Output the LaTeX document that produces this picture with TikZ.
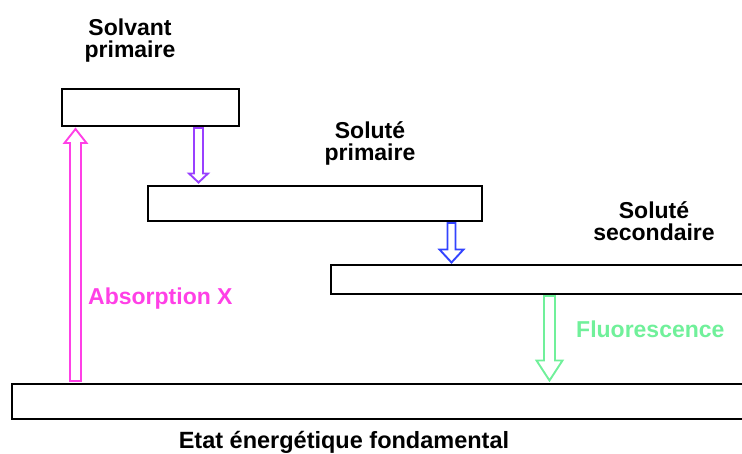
\documentclass[tikz,border=0pt]{standalone}
\usepackage{fontspec}
\setmainfont{Liberation Sans}
\usetikzlibrary{calc}
\definecolor{absorb}{HTML}{FF40E6}
\definecolor{transferone}{HTML}{9940FF}
\definecolor{transfertwo}{HTML}{3344FF}
\definecolor{fluo}{HTML}{70F09A}
% hollow block arrow: style, from, to, shaft half width, head half width, head length
\newcommand{\hollowarrow}[6]{%
  \coordinate (hb) at ($(#3)!#6!(#2)$);
  \draw[#1] ($(#2)!#4!90:(#3)$) -- ($(hb)!#4!90:(#3)$) -- ($(hb)!#5!90:(#3)$)
    -- (#3) -- ($(hb)!#5!-90:(#3)$) -- ($(hb)!#4!-90:(#3)$)
    -- ($(#2)!#4!-90:(#3)$) -- cycle;
}
\tikzset{
  level/.style={
    draw=black,
    line width=2pt,
    inner sep=0pt,
    anchor=north west,
    minimum width=#1,
  },
  lname/.style={
    font=\fontsize{23}{22}\selectfont\bfseries,
    align=center,
    inner sep=0pt,
    anchor=base,
  },
  plabel/.style={
    font=\fontsize{23}{22}\selectfont\bfseries,
    text=#1,
    inner sep=0pt,
    anchor=base west,
  },
  blockarrow/.style={
    draw=#1,
    line width=1.9pt,
    line join=miter,
  },
}

\begin{document}
\begin{tikzpicture}[x=1pt, y=-1pt]
\useasboundingbox (0,0) rectangle (742,453);
\clip (0,0) rectangle (742,453);

% === Energy levels ===
\node[level=177pt, minimum height=37pt] (solvant) at (61,88) {};
\node[level=334pt, minimum height=35pt] (solprim) at (147,185) {};
\node[level=430pt, minimum height=29pt] (solsec) at (330,264) {};
\node[level=750pt, minimum height=35pt] (ground) at (11,383) {};

% === Level names ===
\node[lname] (solvantname) at (130,57) {Solvant\\primaire};
\node[lname] (solprimname) at (370,160) {Soluté\\primaire};
\node[lname] (solsecname) at (654,240) {Soluté\\secondaire};
\node[lname, font=\fontsize{23.5}{24}\selectfont\bfseries] (groundname) at (344,448) {Etat énergétique fondamental};

% === Transitions ===
\coordinate (absfrom) at ($(ground.north west)+(64.5,-2)$);
\coordinate (absto) at ($(absfrom |- solvant.south)+(0,2)$);
\hollowarrow{blockarrow=absorb}{absfrom}{absto}{5.5pt}{11pt}{14pt}

\coordinate (tonefrom) at ($(solvant.south west)+(137.5,1)$);
\coordinate (toneto) at ($(tonefrom |- solprim.north)+(0,-2.5)$);
\hollowarrow{blockarrow=transferone}{tonefrom}{toneto}{4.5pt}{9.5pt}{9pt}

\coordinate (ttwofrom) at ($(solprim.south west)+(304.5,1)$);
\coordinate (ttwoto) at ($(ttwofrom |- solsec.north)+(0,-1.5)$);
\hollowarrow{blockarrow=transfertwo}{ttwofrom}{ttwoto}{4pt}{12pt}{13pt}

\coordinate (fluofrom) at ($(solsec.south west)+(219.5,1)$);
\coordinate (fluoto) at ($(fluofrom |- ground.north)+(0,-2.5)$);
\hollowarrow{blockarrow=fluo}{fluofrom}{fluoto}{5.5pt}{13pt}{20pt}

% === Transition labels ===
\node[plabel=absorb] (abslabel) at (88,304) {Absorption X};
\node[plabel=fluo] (fluolabel) at (576,337) {Fluorescence};

\end{tikzpicture}
\end{document}
